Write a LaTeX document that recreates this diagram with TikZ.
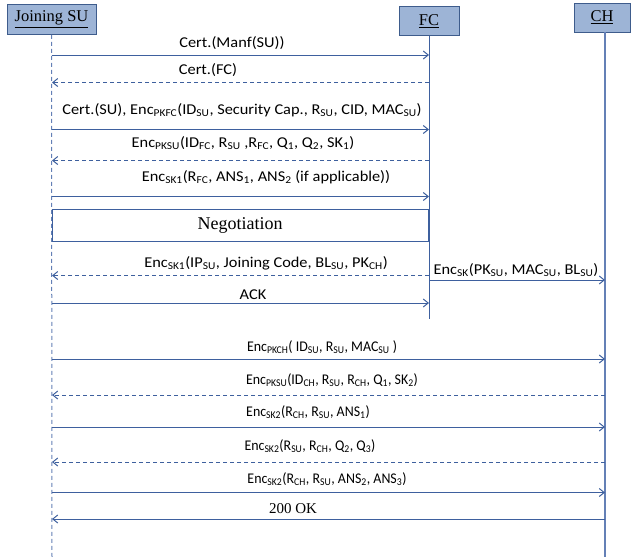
\documentclass[tikz,border=0pt]{standalone}
\usepackage{fontspec}
\setmainfont{Liberation Serif}
\newfontfamily\msgfont[FakeStretch=0.94]{Carlito}
\newfontfamily\widemsgfont[FakeStretch=1.09]{Carlito}
\usetikzlibrary{arrows.meta}

\definecolor{seqline}{RGB}{62,96,158}
\definecolor{lifeline}{RGB}{100,128,182}
\definecolor{actorfill}{RGB}{157,180,214}
\definecolor{actordraw}{RGB}{62,92,140}
\newcommand{\subtxt}[1]{\textsubscript{#1}}

\begin{document}
\begin{tikzpicture}[x=1pt, y=-1pt, >={Straight Barb[length=5pt,width=8pt]},
                    actor/.style={draw=actordraw, fill=actorfill, line width=1pt, inner sep=0pt,
                                  font=\fontsize{16.5}{18}\selectfont},
                    msg/.style={draw=seqline, line width=1pt, ->},
                    reply/.style={msg, dash pattern=on 4pt off 3pt},
                    lbl/.style={font=\msgfont\fontsize{14.8}{16}\selectfont, inner sep=0pt, anchor=base},
                    biglbl/.style={lbl, font=\widemsgfont\fontsize{15}{17}\selectfont},
                    negbox/.style={draw=seqline, line width=0.9pt, minimum width=376pt, minimum height=32pt,
                                   font=\fontsize{18}{20}\selectfont}]

	\useasboundingbox (0,0) rectangle (631,557);

	% actors
	\node[actor, minimum width=89pt, minimum height=30pt] (su) at (51.5,19.3) {\underline{Joining SU}};
	\node[actor, minimum width=60pt, minimum height=29pt] (fc) at (429,20.8) {\underline{FC}};
	\node[actor, minimum width=56pt, minimum height=29pt] (ch) at (602,17.5) {\underline{CH}};

	\coordinate (su end) at (52,557);
	\coordinate (fc end) at (429,319);
	\coordinate (ch end) at (605,557);
	\coordinate (ch top) at (605,32);

	% lifelines
	\draw[lifeline, line width=1pt, dash pattern=on 4pt off 3pt] (su.south) -- (su end);
	\draw[seqline, line width=1pt] (fc.south) -- (fc end);
	\draw[lifeline, line width=1.2pt] (ch top) -- (ch end);

	% message rows
	\foreach \i/\y in {1/55, 2/82.5, 3/129.5, 4/160.5, 5/196.5, 7/275.5, 8/280, 9/303,
	                   10/359, 11/395, 12/427, 13/462, 14/492.5, 15/519}{
		\coordinate (su\i) at (52,\y);
		\coordinate (fc\i) at (429,\y);
		\coordinate (ch\i) at (605,\y);
	}

	\draw[msg] (su1) -- (fc1);
	\node[biglbl] (l1) at (232,47.5) {Cert.(Manf(SU))};

	\draw[reply] (fc2) -- (su2);
	\node[biglbl] (l2) at (208,74) {Cert.(FC)};

	\draw[msg] (su3) -- (fc3);
	\node[biglbl] (l3) at (242,114) {Cert.(SU), Enc\subtxt{PKFC}(ID\subtxt{SU}, Security Cap., R\subtxt{SU}, CID, MAC\subtxt{SU})};

	\draw[reply] (fc4) -- (su4);
	\node[biglbl] (l4) at (243,147) {Enc\subtxt{PKSU}(ID\subtxt{FC}, R\subtxt{SU} ,R\subtxt{FC}, Q\subtxt{1}, Q\subtxt{2}, SK\subtxt{1})};

	\draw[msg] (su5) -- (fc5);
	\node[biglbl] (l5) at (266,181.5) {Enc\subtxt{SK1}(R\subtxt{FC}, ANS\subtxt{1}, ANS\subtxt{2} (if applicable))};

	\node[negbox] (neg) at (240,225) {Negotiation};

	\draw[reply] (fc7) -- (su7);
	\node[biglbl] (l7) at (266,267) {Enc\subtxt{SK1}(IP\subtxt{SU}, Joining Code, BL\subtxt{SU}, PK\subtxt{CH})};

	\draw[msg] (fc8) -- (ch8);
	\node[biglbl] (l8) at (516,274.5) {Enc\subtxt{SK}(PK\subtxt{SU}, MAC\subtxt{SU}, BL\subtxt{SU})};

	\draw[msg] (su9) -- (fc9);
	\node[biglbl] (l9) at (253,299) {ACK};

	\draw[msg] (su10) -- (ch10);
	\node[lbl] (l10) at (322,351) {Enc\subtxt{PKCH}( ID\subtxt{SU}, R\subtxt{SU}, MAC\subtxt{SU} )};

	\draw[reply] (ch11) -- (su11);
	\node[lbl] (l11) at (332,384.5) {Enc\subtxt{PKSU}(ID\subtxt{CH}, R\subtxt{SU}, R\subtxt{CH}, Q\subtxt{1}, SK\subtxt{2})};

	\draw[msg] (su12) -- (ch12);
	\node[lbl] (l12) at (308,416.5) {Enc\subtxt{SK2}(R\subtxt{CH}, R\subtxt{SU}, ANS\subtxt{1})};

	\draw[reply] (ch13) -- (su13);
	\node[lbl] (l13) at (310,450) {Enc\subtxt{SK2}(R\subtxt{SU}, R\subtxt{CH}, Q\subtxt{2}, Q\subtxt{3})};

	\draw[msg] (su14) -- (ch14);
	\node[lbl] (l14) at (327,483) {Enc\subtxt{SK2}(R\subtxt{CH}, R\subtxt{SU}, ANS\subtxt{2}, ANS\subtxt{3})};

	\draw[msg] (ch15) -- (su15);
	\node[lbl, font=\fontsize{15}{17}\selectfont] (l15) at (293,513) {200 OK};

\end{tikzpicture}
\end{document}
